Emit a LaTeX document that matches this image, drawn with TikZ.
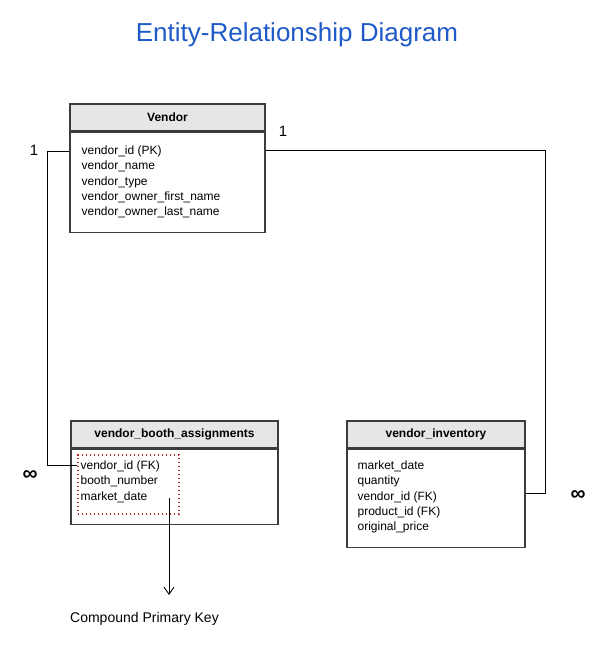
\documentclass[tikz,border=0pt]{standalone}
\usepackage{fontspec}
\setmainfont{Liberation Sans}
\usepackage{tikz}
\usetikzlibrary{positioning,arrows.meta}
\definecolor{titleblue}{RGB}{30,90,200}
\definecolor{headgray}{RGB}{230,230,230}
\definecolor{edgegray}{RGB}{60,60,60}
\definecolor{keyred}{RGB}{185,35,35}

\begin{document}
\begin{tikzpicture}[x=1pt,y=-1pt,
    tblhead/.style={draw=edgegray,line width=1.2pt,fill=headgray,inner sep=0pt,
                    font=\fontsize{12}{14}\selectfont\bfseries},
    tblbody/.style={draw=edgegray,line width=1.2pt,inner sep=0pt},
    fields/.style={align=left,inner sep=0pt,font=\fontsize{12}{15.3}\selectfont},
    card/.style={font=\fontsize{15}{18}\selectfont},
    many/.style={font=\fontsize{21}{22}\selectfont\bfseries}]
    \useasboundingbox (0,0) rectangle (606,649);
    \node[font=\fontsize{26}{30}\selectfont,text=titleblue] (title) at (297,35) {Entity-Relationship Diagram};
    % Vendor
    \node[tblhead,minimum width=195pt,minimum height=27pt] (vendhead) at (167.5,117.5) {Vendor};
    \node[tblbody,minimum width=195pt,minimum height=100pt,below=0pt of vendhead] (vendbox) {};
    \node[fields,anchor=north west] (vendfields) at ([xshift=12pt,yshift=-14pt]vendbox.north west)
        {vendor\_id (PK)\\vendor\_name\\vendor\_type\\vendor\_owner\_first\_name\\vendor\_owner\_last\_name};
    % vendor_booth_assignments
    \node[tblhead,minimum width=207pt,minimum height=27pt] (boothhead) at (174.5,434.5) {vendor\_booth\_assignments};
    \node[tblbody,minimum width=207pt,minimum height=75pt,below=0pt of boothhead] (boothbox) {};
    \node[fields,anchor=north west] (boothfields) at ([xshift=10pt,yshift=-12pt]boothbox.north west)
        {vendor\_id (FK)\\booth\_number\\market\_date};
    \node[draw=keyred,line width=1.4pt,dash pattern=on 1.4pt off 2.6pt,minimum width=101pt,minimum height=59pt,inner sep=0pt] (pkbox) at (128.5,484.5) {};
    % vendor_inventory
    \node[tblhead,minimum width=178pt,minimum height=27pt] (invhead) at (436,434.5) {vendor\_inventory};
    \node[tblbody,minimum width=178pt,minimum height=98pt,below=0pt of invhead] (invbox) {};
    \node[fields,anchor=north west] (invfields) at ([xshift=11pt,yshift=-12pt]invbox.north west)
        {market\_date\\quantity\\vendor\_id (FK)\\product\_id (FK)\\original\_price};
    % relations
    \draw[line width=0.9pt] ([yshift=31pt]vendbox.west) -- ++(-22,0) |- ([yshift=19.5pt]pkbox.west);
    \draw[line width=0.9pt] ([yshift=32pt]vendbox.east) -| ([xshift=20pt,yshift=5pt]invbox.east) -- ([yshift=5pt]invbox.east);
    \node[card] (one1) at (34,150) {1};
    \node[card] (one2) at (283,131) {1};
    \node[many] (many1) at (30,476) {∞};
    \node[many] (many2) at (578,496) {∞};
    % compound key note
    \node[font=\fontsize{14}{16}\selectfont] (cpk) at (144.5,619) {Compound Primary Key};
    \coordinate (keystart) at ([xshift=40.5pt,yshift=-13.5pt]pkbox.center);
    \draw[line width=0.9pt,-{Straight Barb[length=7pt,width=10pt]}] (keystart) -- ([yshift=14pt]cpk.north -| keystart);
\end{tikzpicture}
\end{document}
